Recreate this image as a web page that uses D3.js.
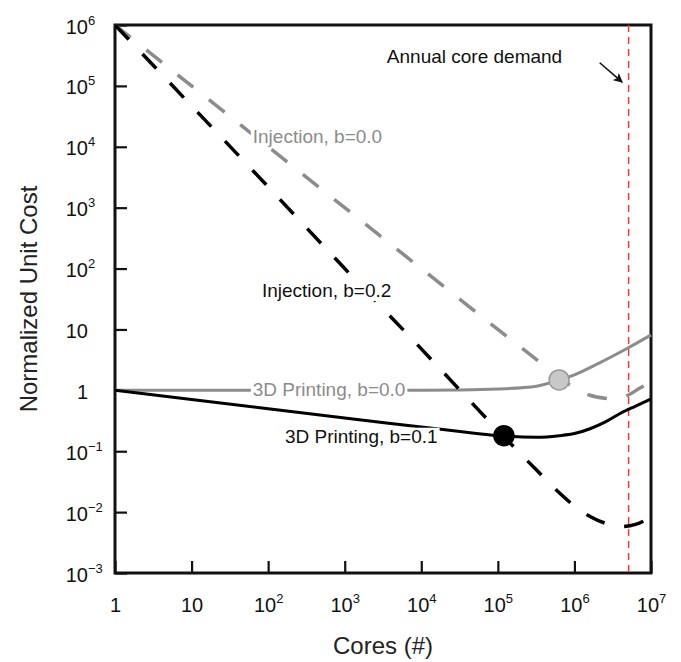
<!DOCTYPE html>
<html>
<head>
<meta charset="utf-8">
<script src="https://cdn.jsdelivr.net/npm/d3@7"></script>
<style>
  body { margin: 0; background: #fff; }
  svg text { font-family: "Liberation Sans", Arial, sans-serif; }
</style>
</head>
<body>
<script>
// values (cores -> normalized unit cost)
const injB02Cores = [1, 10, 100, 1e3, 1e4, 1e5, 3.2e5, 6.3e5, 1e6, 1.6e6, 2.5e6, 4e6, 6.3e6, 1e7];
const injB02Cost = [1e6, 4.7e4, 2.2e3, 100, 4.8, 0.22, 0.049, 0.021, 0.0126, 0.0085, 0.0066, 0.0058, 0.0063, 0.0083];

const injB00Cores = [1, 10, 100, 1e3, 1e4, 1e5, 3.2e5, 6.3e5, 1e6, 1.6e6, 2.5e6, 3.5e6, 5e6, 7e6, 1e7];
const injB00Cost = [1e6, 1e5, 1e4, 1e3, 100, 10, 3.2, 1.6, 1.1, 0.83, 0.74, 0.72, 0.83, 1.07, 1.38];

const dpB00Cores = [1, 10, 100, 1e3, 1e4, 3.2e4, 1e5, 3.2e5, 6.3e5, 1e6, 2.1e6, 5.2e6, 1e7];
const dpB00Cost = [1, 1, 1, 1, 1, 1.01, 1.05, 1.17, 1.48, 1.8, 2.8, 5.1, 8.1];

const dpB01Cores = [1, 10, 100, 1e3, 1e4, 3.2e4, 1e5, 3.2e5, 6.3e5, 1e6, 1.6e6, 2.5e6, 4e6, 6.3e6, 1e7];
const dpB01Cost = [1, 0.71, 0.5, 0.35, 0.25, 0.21, 0.18, 0.17, 0.18, 0.195, 0.234, 0.30, 0.42, 0.55, 0.72];

const optimumCores = [1.2e5, 6.3e5];
const optimumCost = [0.18, 1.48];

const annualDemand = 5.1e6;

const xTicks = [1, 10, 1e2, 1e3, 1e4, 1e5, 1e6, 1e7];
const yTicks = [1e-3, 1e-2, 1e-1, 1, 10, 1e2, 1e3, 1e4, 1e5, 1e6];

const W = 681, H = 662;
const margin = { top: 25, right: 30, bottom: 89, left: 115 };

const svg = d3.select('body')
  .append('svg')
  .attr('width', W)
  .attr('height', H);

const x = d3.scaleLog()
  .domain([1, 1e7])
  .range([margin.left, W - margin.right]);

const y = d3.scaleLog()
  .domain([1e-3, 1e6])
  .range([H - margin.bottom, margin.top]);

const gray = '#8c8c8c';

const expText = e => e < 0 ? '\u2212' + Math.abs(e) : String(e);

// axes
const xAxis = svg.append('g')
  .attr('transform', `translate(0,${H - margin.bottom})`)
  .call(d3.axisBottom(x).tickValues(xTicks).tickSize(-12).tickFormat(''));

const yAxis = svg.append('g')
  .attr('transform', `translate(${margin.left},0)`)
  .call(d3.axisLeft(y).tickValues(yTicks).tickSize(-12).tickFormat(''));

[xAxis, yAxis].forEach(g => {
  g.select('.domain').remove();
  g.selectAll('line').attr('stroke', '#111').attr('stroke-width', 2.2);
});

xAxis.selectAll('.tick').each(function (d) {
  const e = Math.round(Math.log10(d));
  const t = d3.select(this).append('text')
    .attr('y', 39)
    .attr('text-anchor', 'middle')
    .attr('font-size', 20)
    .attr('fill', '#111')
    .text(e === 0 ? '1' : '10');
  if (e > 1) {
    t.append('tspan')
      .attr('dy', -9)
      .attr('font-size', 13)
      .text(expText(e));
  }
});

yAxis.selectAll('.tick').each(function (d) {
  const e = Math.round(Math.log10(d));
  const g = d3.select(this);
  g.append('text')
    .attr('x', -27)
    .attr('y', 8)
    .attr('text-anchor', 'end')
    .attr('font-size', 20)
    .attr('fill', '#111')
    .text(e === 0 ? '1' : '10');
  if (e !== 0 && e !== 1) {
    g.append('text')
      .attr('x', -27)
      .attr('y', -1)
      .attr('text-anchor', 'start')
      .attr('font-size', 13)
      .attr('fill', '#111')
      .text(expText(e));
  }
});

// frame
svg.append('rect')
  .attr('x', margin.left)
  .attr('y', margin.top)
  .attr('width', W - margin.right - margin.left)
  .attr('height', H - margin.bottom - margin.top)
  .attr('fill', 'none')
  .attr('stroke', '#111')
  .attr('stroke-width', 3);

// axis titles
svg.append('text')
  .attr('x', (margin.left + W - margin.right) / 2)
  .attr('y', 654)
  .attr('text-anchor', 'middle')
  .attr('font-size', 24)
  .attr('fill', '#222')
  .text('Cores (#)');

svg.append('text')
  .attr('transform', `translate(37,${(margin.top + H - margin.bottom) / 2}) rotate(-90)`)
  .attr('text-anchor', 'middle')
  .attr('font-size', 24)
  .attr('fill', '#222')
  .text('Normalized Unit Cost');

// annual demand
svg.append('line')
  .attr('x1', x(annualDemand))
  .attr('x2', x(annualDemand))
  .attr('y1', y(1e6))
  .attr('y2', y(1e-3))
  .attr('stroke', '#f03a3a')
  .attr('stroke-width', 1.5)
  .attr('stroke-dasharray', '7,5');

const line = (xs, ys) => d3.line()
  .x(i => x(xs[i]))
  .y(i => y(ys[i]))
  .curve(d3.curveMonotoneX)(d3.range(xs.length));

const plot = svg.append('g');

plot.append('path')
  .attr('d', line(dpB00Cores, dpB00Cost))
  .attr('fill', 'none')
  .attr('stroke', gray)
  .attr('stroke-width', 3);

plot.append('path')
  .attr('d', line(dpB01Cores, dpB01Cost))
  .attr('fill', 'none')
  .attr('stroke', '#000')
  .attr('stroke-width', 3);

plot.append('path')
  .attr('d', line(injB00Cores, injB00Cost))
  .attr('fill', 'none')
  .attr('stroke', gray)
  .attr('stroke-width', 3.5)
  .attr('stroke-dasharray', '20,20');

plot.append('path')
  .attr('d', line(injB02Cores, injB02Cost))
  .attr('fill', 'none')
  .attr('stroke', '#000')
  .attr('stroke-width', 3.5)
  .attr('stroke-dasharray', '20,20');

// optimum points
plot.selectAll('circle')
  .data(d3.range(optimumCores.length))
  .join('circle')
  .attr('cx', i => x(optimumCores[i]))
  .attr('cy', i => y(optimumCost[i]))
  .attr('r', 10)
  .attr('fill', i => i === 0 ? '#000' : '#c8c8c8')
  .attr('stroke', i => i === 0 ? '#000' : '#999')
  .attr('stroke-width', 1.5);

// curve labels with white backing
const labels = [
  { text: 'Injection, b=0.0', cores: 63, cost: 1.15e4, color: gray },
  { text: 'Injection, b=0.2', cores: 83, cost: 34, color: '#111' },
  { text: '3D Printing, b=0.0', cores: 63, cost: 0.81, color: gray },
  { text: '3D Printing, b=0.1', cores: 166, cost: 0.138, color: '#111' }
];

labels.forEach(l => {
  const g = svg.append('g');
  const t = g.append('text')
    .attr('x', x(l.cores))
    .attr('y', y(l.cost))
    .attr('font-size', 19)
    .attr('fill', l.color)
    .text(l.text);
  const b = t.node().getBBox();
  g.insert('rect', 'text')
    .attr('x', b.x - 2)
    .attr('y', b.y + 2)
    .attr('width', b.width + 4)
    .attr('height', b.height - 2)
    .attr('fill', '#fff');
});

svg.append('text')
  .attr('x', x(3550))
  .attr('y', y(2.4e5))
  .attr('font-size', 19)
  .attr('fill', '#111')
  .text('Annual core demand');

svg.append('defs')
  .append('marker')
  .attr('id', 'arrow')
  .attr('viewBox', '0 0 10 10')
  .attr('refX', 9)
  .attr('refY', 5)
  .attr('markerWidth', 6)
  .attr('markerHeight', 6)
  .attr('orient', 'auto')
  .append('path')
  .attr('d', 'M0,0 L10,5 L0,10 L2.5,5 z')
  .attr('fill', '#111');

svg.append('line')
  .attr('x1', x(2.14e6))
  .attr('y1', y(2.4e5))
  .attr('x2', x(4.2e6))
  .attr('y2', y(1.15e5))
  .attr('stroke', '#111')
  .attr('stroke-width', 1.6)
  .attr('marker-end', 'url(#arrow)');
</script>
</body>
</html>
